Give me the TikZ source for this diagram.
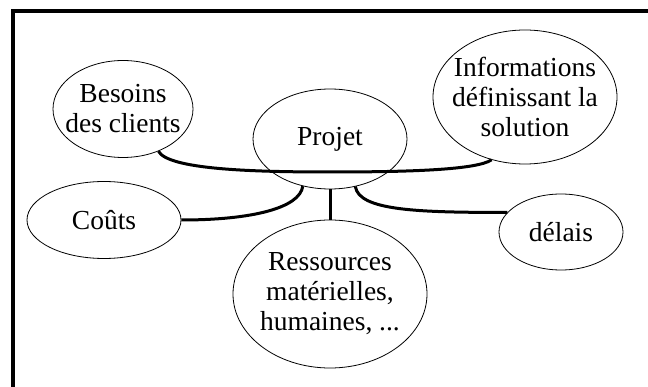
\documentclass[tikz,border=0pt]{standalone}
\usepackage{fontspec}
\setmainfont{Liberation Serif}
\usepackage{tikz}
\usetikzlibrary{positioning,shapes.geometric}
\tikzset{%
	bubble/.style   = {draw, ellipse, line width=0.8pt, inner sep=0pt}, % text goes in a centred label
	every label/.style = {align=center, inner sep=0pt, font=\fontsize{27.5}{30}\selectfont},
	link/.style     = {line width=3pt}, % thick connector
	frame/.style    = {line width=3.4pt},
}

\begin{document}
\begin{tikzpicture}[x=1pt,y=1pt,node distance=155pt]
		\useasboundingbox (0,0) rectangle (648,-387);
		\draw[frame] (13,-387) |- (648,-11);
		
		\node [bubble,minimum width=154pt,minimum height=100pt,label=center:Projet] (p) at (330,-139) {};
		\node [bubble,minimum width=140pt,minimum height=97pt,label=center:{Besoins\\des clients}] (bc) at (123,-109) {};
		\node [bubble,minimum width=184pt,minimum height=134pt,label=center:{Informations\\définissant la\\solution}] (info) at (525,-97) {};
		\node [bubble,minimum width=154pt,minimum height=77pt,label=center:Coûts] (co) at (104,-220) {};
		\node [bubble,minimum width=194pt,minimum height=148pt,label=center:{Ressources\\matérielles,\\humaines, ...}] (res) [below of=p] {};
		\node [bubble,minimum width=124pt,minimum height=76pt,label=center:délais] (del) at (561,-232) {};
		\coordinate (mid) at (330,-172);
		
		\draw[link] (bc.-50) .. controls +(10,-18) and +(-80,0) .. (mid)
			.. controls +(80,0) and +(-15,-10) .. (info.-118);
		\draw[link] (p.-120) .. controls +(-3,-22) and +(70,0) .. (co.east);
		\draw[link] (p.south) -- (res.north);
		\draw[link] (p.-62) .. controls +(4,-24) and +(-90,0) .. (del.160);
	\end{tikzpicture}
\end{document}
